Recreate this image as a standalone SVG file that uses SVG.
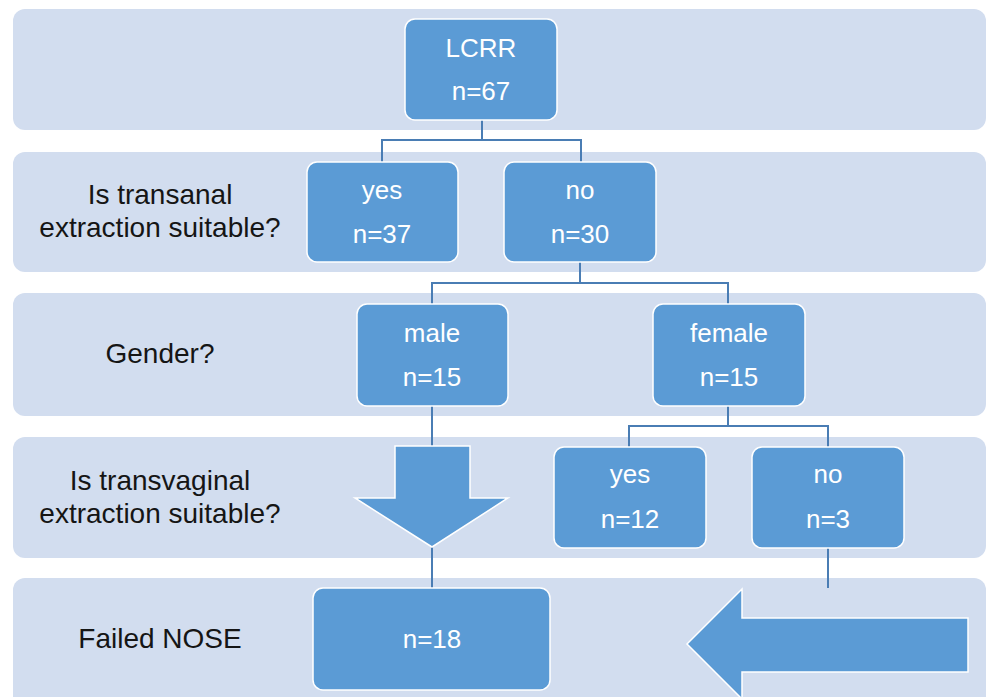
<svg xmlns="http://www.w3.org/2000/svg" width="987" height="697" viewBox="0 0 987 697">
<style>
.band{fill:#d2ddef}
.node{fill:#5b9bd5;stroke:#ffffff;stroke-width:1.5}
.arrow{fill:#5b9bd5;stroke:#ffffff;stroke-width:1.5}
.lbl{font-family:"Liberation Sans",Arial,sans-serif;font-size:28px;fill:#151515;text-anchor:middle}
.nt{font-family:"Liberation Sans",Arial,sans-serif;font-size:26px;fill:#ffffff;text-anchor:middle}
.conn{fill:none;stroke:#4a7db4;stroke-width:2}
</style>
<g id="bands">
<rect class="band" x="13" y="9" width="973" height="121" rx="12"/>
<rect class="band" x="13" y="152" width="973" height="120" rx="12"/>
<rect class="band" x="13" y="293" width="973" height="123" rx="12"/>
<rect class="band" x="13" y="437" width="973" height="121" rx="12"/>
<rect class="band" x="13" y="578" width="973" height="140" rx="12"/>
</g>
<g id="labels">
<text class="lbl" x="160" y="204">Is transanal</text>
<text class="lbl" x="160" y="237">extraction suitable?</text>
<text class="lbl" x="160" y="363">Gender?</text>
<text class="lbl" x="160" y="490">Is transvaginal</text>
<text class="lbl" x="160" y="523">extraction suitable?</text>
<text class="lbl" x="160" y="648">Failed NOSE</text>
</g>
<g id="connectors">
<path class="conn" d="M482 120 V140 M382 162 V140 H581 V162"/>
<path class="conn" d="M580 262 V283 M432 304 V283 H728 V304"/>
<path class="conn" d="M728 406 V426 M629 447 V426 H828 V447"/>
<path class="conn" d="M432 406 V446"/>
<path class="conn" d="M432 547 V588"/>
<path class="conn" d="M828 548 V588"/>
</g>
<g id="arrow-down">
<path class="arrow" d="M395 446 H470 V498 H508 L432 547 L355 498 H395 Z"/>
</g>
<g id="arrow-left">
<path class="arrow" d="M687 644 L742 589 V618 H968 V672 H742 V699 Z"/>
</g>
<g id="lcrr">
<rect class="node" x="405" y="19" width="152" height="101" rx="10"/>
<text class="nt" x="481" y="57">LCRR</text>
<text class="nt" x="481" y="100">n=67</text>
</g>
<g id="yes1">
<rect class="node" x="307" y="162" width="151" height="100" rx="10"/>
<text class="nt" x="382" y="199">yes</text>
<text class="nt" x="382" y="243">n=37</text>
</g>
<g id="no1">
<rect class="node" x="504" y="162" width="152" height="100" rx="10"/>
<text class="nt" x="580" y="199">no</text>
<text class="nt" x="580" y="243">n=30</text>
</g>
<g id="male">
<rect class="node" x="357" y="304" width="151" height="102" rx="10"/>
<text class="nt" x="432" y="342">male</text>
<text class="nt" x="432" y="386">n=15</text>
</g>
<g id="female">
<rect class="node" x="653" y="304" width="152" height="102" rx="10"/>
<text class="nt" x="729" y="342">female</text>
<text class="nt" x="729" y="386">n=15</text>
</g>
<g id="yes2">
<rect class="node" x="554" y="447" width="152" height="101" rx="10"/>
<text class="nt" x="630" y="483">yes</text>
<text class="nt" x="630" y="528">n=12</text>
</g>
<g id="no2">
<rect class="node" x="752" y="447" width="152" height="101" rx="10"/>
<text class="nt" x="828" y="483">no</text>
<text class="nt" x="828" y="528">n=3</text>
</g>
<g id="failed">
<rect class="node" x="313" y="588" width="237" height="102" rx="10"/>
<text class="nt" x="432" y="648">n=18</text>
</g>
</svg>
